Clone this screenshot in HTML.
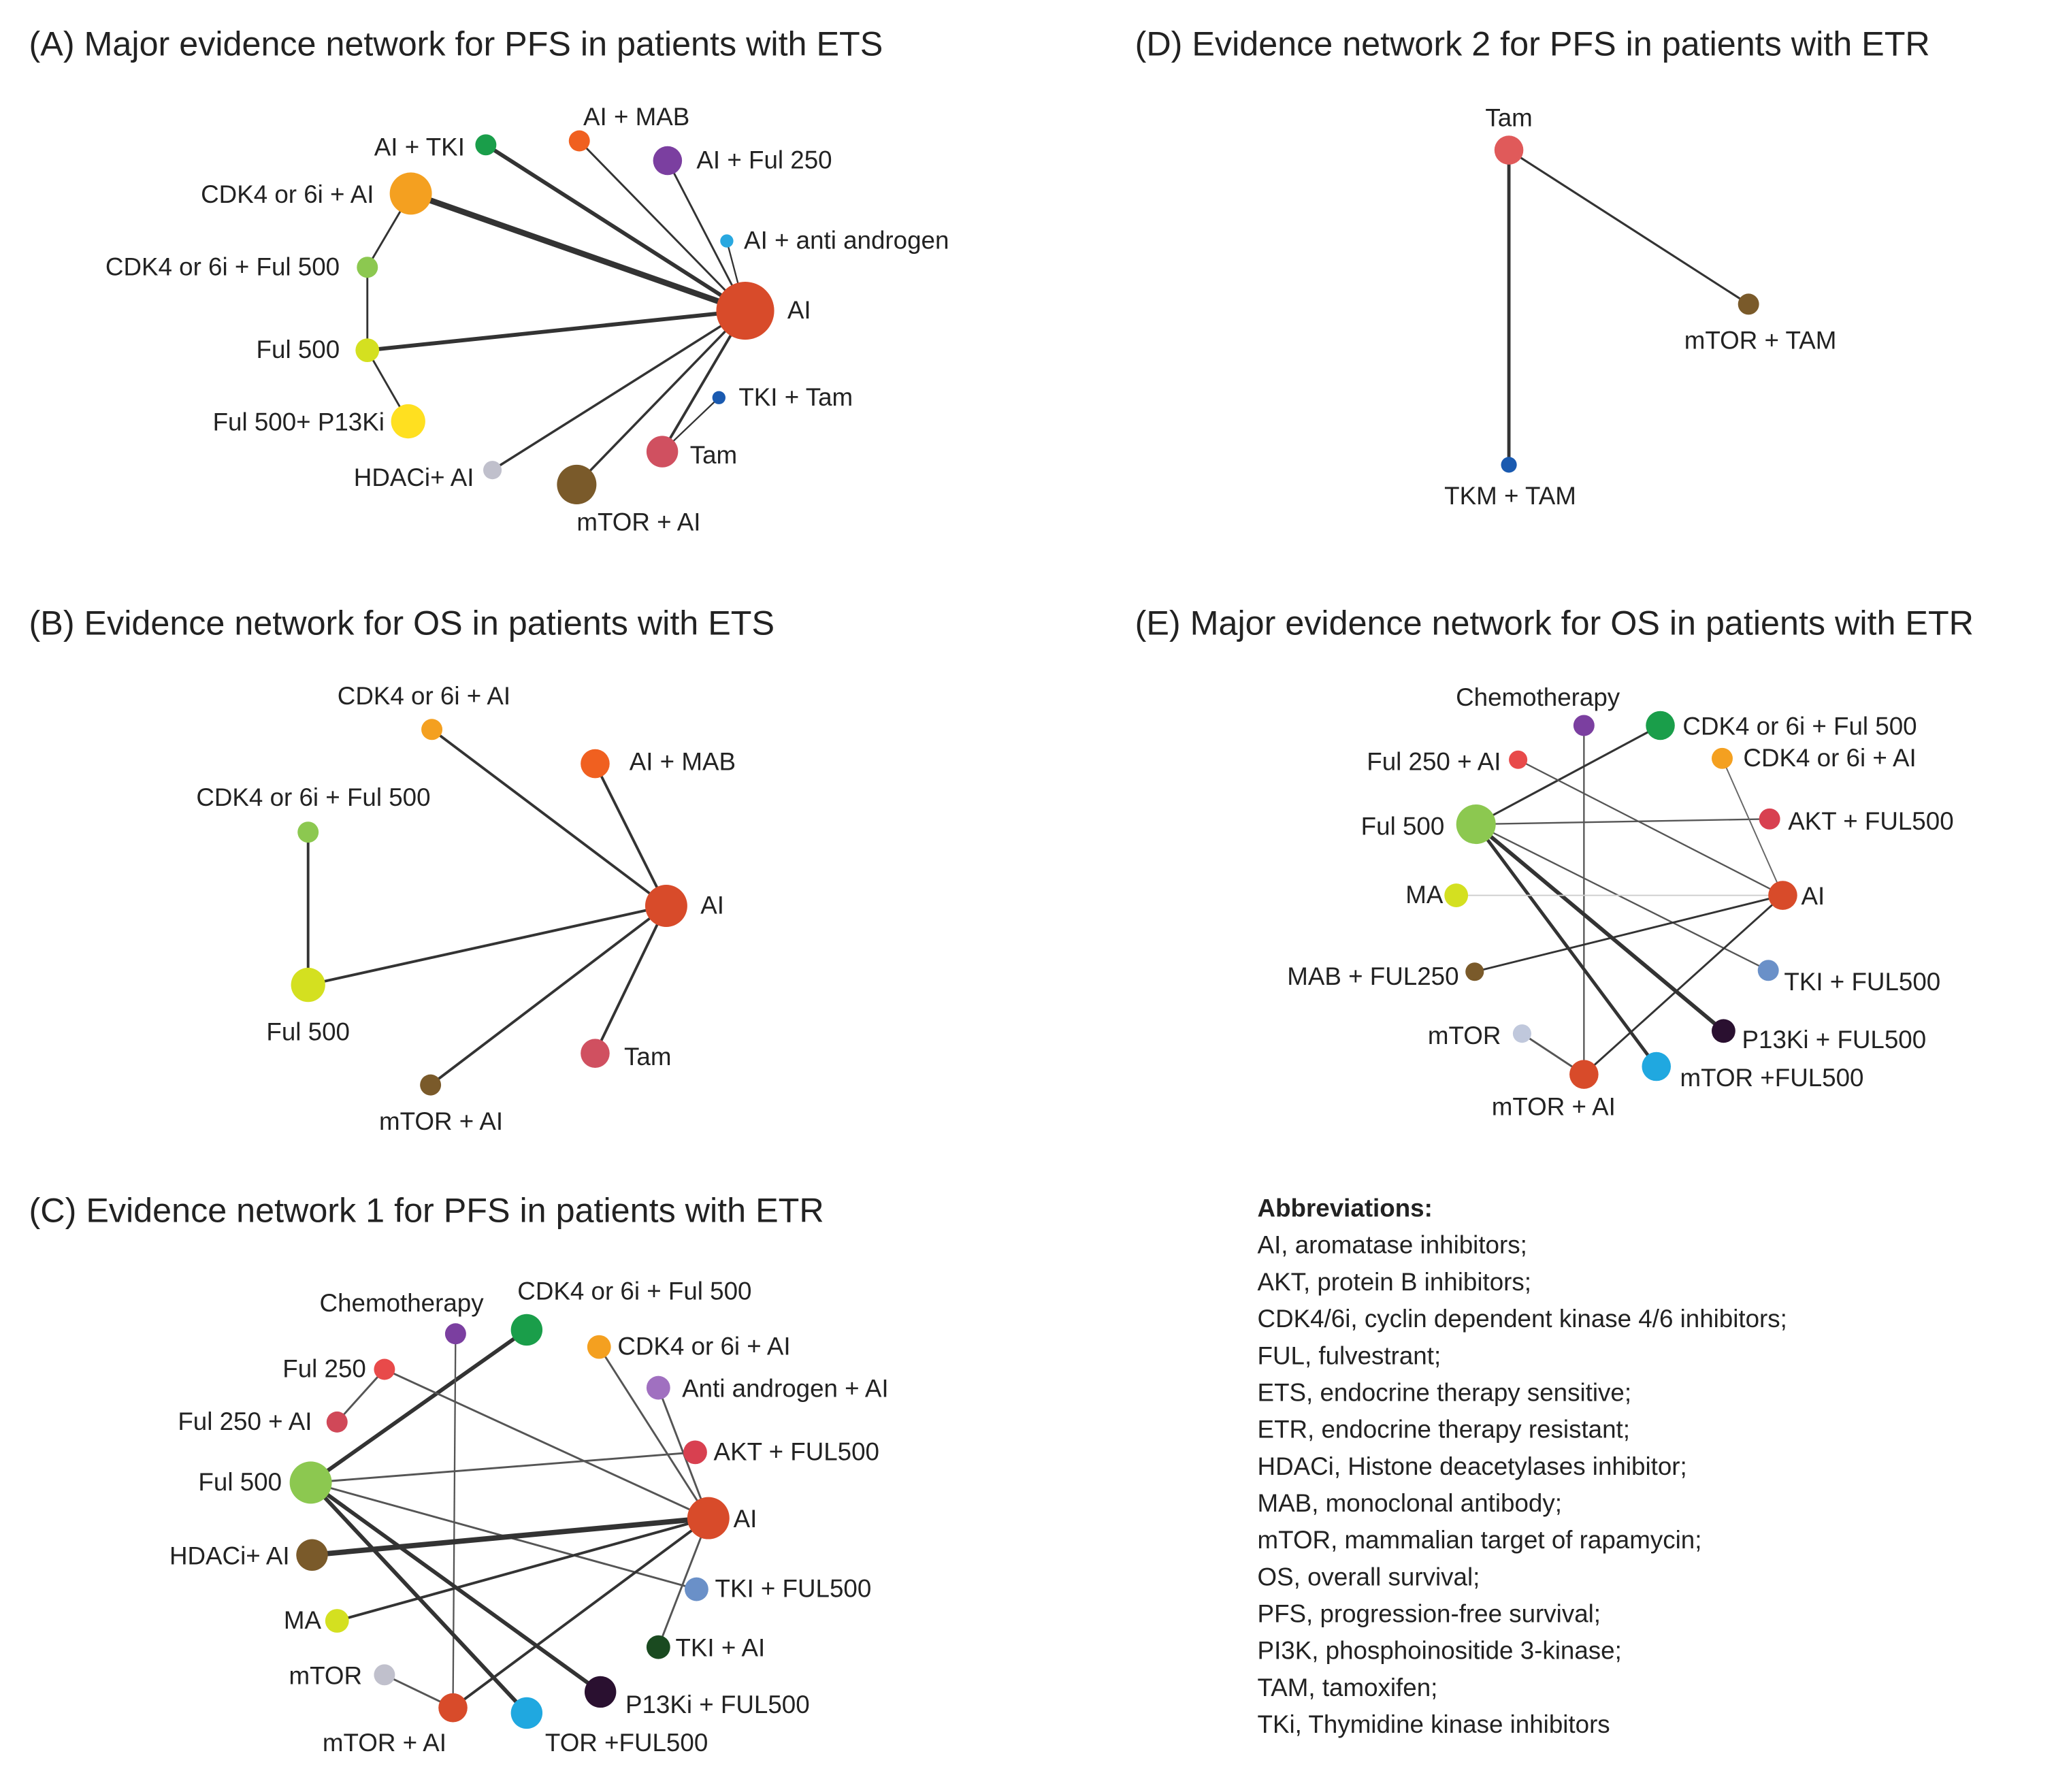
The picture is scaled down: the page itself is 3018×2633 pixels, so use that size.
<!DOCTYPE html>
<html><head><meta charset="utf-8"><style>
html,body{margin:0;padding:0;background:#fff;}
svg{display:block;}
text{font-family:"Liberation Sans",Arial,sans-serif;fill:#222;}
.t{font-size:26px;}
.l{font-size:19px;}
.e{stroke:#333;fill:none;}
</style></head><body>
<svg width="3018" height="2633" viewBox="0 0 1560 1361" xmlns="http://www.w3.org/2000/svg">
<rect width="1560" height="1361" fill="#fff"/>
<!-- Panel A -->
<text class="t" x="22" y="42">(A) Major evidence network for PFS in patients with ETS</text>
<g class="e">
<line x1="566" y1="236" x2="369" y2="110" stroke-width="3"/>
<line x1="566" y1="236" x2="440" y2="107" stroke-width="1.5"/>
<line x1="566" y1="236" x2="507" y2="122" stroke-width="1.5"/>
<line x1="566" y1="236" x2="552" y2="183" stroke-width="1.2"/>
<line x1="566" y1="236" x2="312" y2="147" stroke-width="4.5"/>
<line x1="566" y1="236" x2="279" y2="266" stroke-width="3"/>
<line x1="566" y1="236" x2="374" y2="357" stroke-width="1.8"/>
<line x1="566" y1="236" x2="438" y2="368" stroke-width="1.8"/>
<line x1="566" y1="236" x2="503" y2="343" stroke-width="2"/>
<line x1="503" y1="343" x2="546" y2="302" stroke-width="1.2"/>
<line x1="312" y1="147" x2="279" y2="203" stroke-width="1.5"/>
<line x1="279" y1="203" x2="279" y2="266" stroke-width="1.5"/>
<line x1="279" y1="266" x2="310" y2="320" stroke-width="1.5"/>
</g>
<circle cx="566" cy="236" r="22" fill="#d84b2a"/>
<circle cx="369" cy="110" r="8" fill="#1a9e4a"/>
<circle cx="440" cy="107" r="8" fill="#f06020"/>
<circle cx="507" cy="122" r="11" fill="#7b3fa0"/>
<circle cx="552" cy="183" r="5" fill="#29a8e0"/>
<circle cx="312" cy="147" r="16" fill="#f4a020"/>
<circle cx="279" cy="203" r="8" fill="#8cc850"/>
<circle cx="279" cy="266" r="9" fill="#d4e020"/>
<circle cx="310" cy="320" r="13" fill="#ffe020"/>
<circle cx="374" cy="357" r="7" fill="#c0c0cc"/>
<circle cx="438" cy="368" r="15" fill="#7a5a2a"/>
<circle cx="503" cy="343" r="12" fill="#d05060"/>
<circle cx="546" cy="302" r="5" fill="#1a5ab0"/>
<g class="l">
<text class="l" x="353" y="118" text-anchor="end">AI + TKI</text>
<text class="l" x="443" y="95">AI + MAB</text>
<text class="l" x="529" y="128">AI + Ful 250</text>
<text class="l" x="565" y="189">AI + anti androgen</text>
<text class="l" x="598" y="242">AI</text>
<text class="l" x="284" y="154" text-anchor="end">CDK4 or 6i + AI</text>
<text class="l" x="258" y="209" text-anchor="end">CDK4 or 6i + Ful 500</text>
<text class="l" x="258" y="272" text-anchor="end">Ful 500</text>
<text class="l" x="292" y="327" text-anchor="end">Ful 500+ P13Ki</text>
<text class="l" x="360" y="369" text-anchor="end">HDACi+ AI</text>
<text class="l" x="438" y="403">mTOR + AI</text>
<text class="l" x="524" y="352">Tam</text>
<text class="l" x="561" y="308">TKI + Tam</text>
</g>
<!-- Panel B -->
<text class="t" x="22" y="482">(B) Evidence network for OS in patients with ETS</text>
<g class="e" stroke-width="2">
<line x1="506" y1="688" x2="328" y2="554"/>
<line x1="506" y1="688" x2="452" y2="580"/>
<line x1="506" y1="688" x2="234" y2="748"/>
<line x1="506" y1="688" x2="327" y2="824"/>
<line x1="506" y1="688" x2="452" y2="800"/>
<line x1="234" y1="632" x2="234" y2="748"/>
</g>
<circle cx="506" cy="688" r="16" fill="#d84b2a"/>
<circle cx="328" cy="554" r="8" fill="#f4a020"/>
<circle cx="452" cy="580" r="11" fill="#f06020"/>
<circle cx="234" cy="632" r="8" fill="#8cc850"/>
<circle cx="234" cy="748" r="13" fill="#d4e020"/>
<circle cx="327" cy="824" r="8" fill="#7a5a2a"/>
<circle cx="452" cy="800" r="11" fill="#d05060"/>
<text class="l" x="322" y="535" text-anchor="middle">CDK4 or 6i + AI</text>
<text class="l" x="478" y="585">AI + MAB</text>
<text class="l" x="238" y="612" text-anchor="middle">CDK4 or 6i + Ful 500</text>
<text class="l" x="234" y="790" text-anchor="middle">Ful 500</text>
<text class="l" x="335" y="858" text-anchor="middle">mTOR + AI</text>
<text class="l" x="474" y="809">Tam</text>
<text class="l" x="532" y="694">AI</text>
<!-- Panel C -->
<text class="t" x="22" y="928">(C) Evidence network 1 for PFS in patients with ETR</text>
<g class="e">
<line x1="236" y1="1126" x2="400" y2="1010" stroke-width="3"/>
<line x1="346" y1="1013" x2="344" y2="1297" stroke-width="1.2" stroke="#555"/>
<line x1="292" y1="1040" x2="256" y2="1080" stroke-width="1.5" stroke="#555"/>
<line x1="292" y1="1040" x2="538" y2="1153" stroke-width="1.5" stroke="#555"/>
<line x1="236" y1="1126" x2="528" y2="1103" stroke-width="1.5" stroke="#555"/>
<line x1="236" y1="1126" x2="529" y2="1207" stroke-width="1.5" stroke="#555"/>
<line x1="236" y1="1126" x2="456" y2="1285" stroke-width="3"/>
<line x1="236" y1="1126" x2="400" y2="1301" stroke-width="3"/>
<line x1="455" y1="1023" x2="538" y2="1153" stroke-width="1.5" stroke="#555"/>
<line x1="500" y1="1054" x2="538" y2="1153" stroke-width="1.5" stroke="#555"/>
<line x1="237" y1="1181" x2="538" y2="1153" stroke-width="4"/>
<line x1="256" y1="1231" x2="538" y2="1153" stroke-width="2"/>
<line x1="344" y1="1297" x2="538" y2="1153" stroke-width="2"/>
<line x1="500" y1="1251" x2="538" y2="1153" stroke-width="1.5" stroke="#555"/>
<line x1="292" y1="1272" x2="344" y2="1297" stroke-width="1.5" stroke="#555"/>
</g>
<circle cx="346" cy="1013" r="8" fill="#7b3fa0"/>
<circle cx="400" cy="1010" r="12" fill="#1a9e4a"/>
<circle cx="292" cy="1040" r="8" fill="#e84a4a"/>
<circle cx="256" cy="1080" r="8" fill="#d04858"/>
<circle cx="455" cy="1023" r="9" fill="#f4a020"/>
<circle cx="500" cy="1054" r="9" fill="#a070c0"/>
<circle cx="528" cy="1103" r="9" fill="#d84050"/>
<circle cx="236" cy="1126" r="16" fill="#8cc850"/>
<circle cx="538" cy="1153" r="16" fill="#d84b2a"/>
<circle cx="237" cy="1181" r="12" fill="#7a5a2a"/>
<circle cx="529" cy="1207" r="9" fill="#6a90c8"/>
<circle cx="256" cy="1231" r="9" fill="#d4e020"/>
<circle cx="500" cy="1251" r="9" fill="#1a4a20"/>
<circle cx="292" cy="1272" r="8" fill="#c0c0cc"/>
<circle cx="456" cy="1285" r="12" fill="#2a1030"/>
<circle cx="344" cy="1297" r="11" fill="#d84b2a"/>
<circle cx="400" cy="1301" r="12" fill="#20a8e0"/>
<text class="l" x="305" y="996" text-anchor="middle">Chemotherapy</text>
<text class="l" x="393" y="987">CDK4 or 6i + Ful 500</text>
<text class="l" x="278" y="1046" text-anchor="end">Ful 250</text>
<text class="l" x="237" y="1086" text-anchor="end">Ful 250 + AI</text>
<text class="l" x="469" y="1029">CDK4 or 6i + AI</text>
<text class="l" x="518" y="1061">Anti androgen + AI</text>
<text class="l" x="542" y="1109">AKT + FUL500</text>
<text class="l" x="214" y="1132" text-anchor="end">Ful 500</text>
<text class="l" x="557" y="1160">AI</text>
<text class="l" x="220" y="1188" text-anchor="end">HDACi+ AI</text>
<text class="l" x="543" y="1213">TKI + FUL500</text>
<text class="l" x="244" y="1237" text-anchor="end">MA</text>
<text class="l" x="513" y="1258">TKI + AI</text>
<text class="l" x="275" y="1279" text-anchor="end">mTOR</text>
<text class="l" x="475" y="1301">P13Ki + FUL500</text>
<text class="l" x="292" y="1330" text-anchor="middle">mTOR + AI</text>
<text class="l" x="414" y="1330">TOR +FUL500</text>
<!-- Panel D -->
<text class="t" x="862" y="42">(D) Evidence network 2 for PFS in patients with ETR</text>
<line class="e" x1="1146" y1="114" x2="1328" y2="231" stroke-width="1.6"/>
<line class="e" x1="1146" y1="114" x2="1146" y2="353" stroke-width="2.5"/>
<circle cx="1146" cy="114" r="11" fill="#e05a5a"/>
<circle cx="1328" cy="231" r="8" fill="#7a5a2a"/>
<circle cx="1146" cy="353" r="6" fill="#1a5ab0"/>
<text class="l" x="1146" y="96" text-anchor="middle">Tam</text>
<text class="l" x="1337" y="265" text-anchor="middle">mTOR + TAM</text>
<text class="l" x="1147" y="383" text-anchor="middle">TKM + TAM</text>
<!-- Panel E -->
<text class="t" x="862" y="482">(E) Major evidence network for OS in patients with ETR</text>
<g class="e">
<line x1="1203" y1="551" x2="1203" y2="816" stroke-width="1.2" stroke="#555"/>
<line x1="1121" y1="626" x2="1261" y2="551" stroke-width="1.6"/>
<line x1="1153" y1="577" x2="1354" y2="680" stroke-width="1.2" stroke="#555"/>
<line x1="1121" y1="626" x2="1344" y2="622" stroke-width="1.2" stroke="#555"/>
<line x1="1121" y1="626" x2="1343" y2="737" stroke-width="1.2" stroke="#555"/>
<line x1="1121" y1="626" x2="1309" y2="783" stroke-width="3"/>
<line x1="1121" y1="626" x2="1258" y2="810" stroke-width="2.5"/>
<line x1="1308" y1="576" x2="1354" y2="680" stroke-width="1" stroke="#666"/>
<line x1="1106" y1="680" x2="1354" y2="680" stroke-width="1" stroke="#ccc"/>
<line x1="1120" y1="738" x2="1354" y2="680" stroke-width="1.5"/>
<line x1="1156" y1="785" x2="1203" y2="816" stroke-width="1.5" stroke="#555"/>
<line x1="1203" y1="816" x2="1354" y2="680" stroke-width="1.5"/>
</g>
<circle cx="1203" cy="551" r="8" fill="#7b3fa0"/>
<circle cx="1261" cy="551" r="11" fill="#1a9e4a"/>
<circle cx="1153" cy="577" r="7" fill="#e84a4a"/>
<circle cx="1308" cy="576" r="8" fill="#f4a020"/>
<circle cx="1121" cy="626" r="15" fill="#8cc850"/>
<circle cx="1344" cy="622" r="8" fill="#d84050"/>
<circle cx="1106" cy="680" r="9" fill="#d4e020"/>
<circle cx="1354" cy="680" r="11" fill="#d84b2a"/>
<circle cx="1120" cy="738" r="7" fill="#7a5a2a"/>
<circle cx="1343" cy="737" r="8" fill="#6a90c8"/>
<circle cx="1156" cy="785" r="7" fill="#c0c8dc"/>
<circle cx="1309" cy="783" r="9" fill="#2a1030"/>
<circle cx="1203" cy="816" r="11" fill="#d84b2a"/>
<circle cx="1258" cy="810" r="11" fill="#20a8e0"/>
<text class="l" x="1168" y="536" text-anchor="middle">Chemotherapy</text>
<text class="l" x="1278" y="558">CDK4 or 6i + Ful 500</text>
<text class="l" x="1140" y="585" text-anchor="end">Ful 250 + AI</text>
<text class="l" x="1324" y="582">CDK4 or 6i + AI</text>
<text class="l" x="1097" y="634" text-anchor="end">Ful 500</text>
<text class="l" x="1358" y="630">AKT + FUL500</text>
<text class="l" x="1096" y="686" text-anchor="end">MA</text>
<text class="l" x="1368" y="687">AI</text>
<text class="l" x="1108" y="748" text-anchor="end">MAB + FUL250</text>
<text class="l" x="1355" y="752">TKI + FUL500</text>
<text class="l" x="1140" y="793" text-anchor="end">mTOR</text>
<text class="l" x="1323" y="796">P13Ki + FUL500</text>
<text class="l" x="1180" y="847" text-anchor="middle">mTOR + AI</text>
<text class="l" x="1276" y="825">mTOR +FUL500</text>
<!-- Abbreviations -->
<g font-size="19">
<text x="955" y="924" font-weight="bold" font-size="19">Abbreviations:</text>
<text x="955" y="952" font-size="19">AI, aromatase inhibitors;</text>
<text x="955" y="980" font-size="19">AKT, protein B inhibitors;</text>
<text x="955" y="1008" font-size="19">CDK4/6i, cyclin dependent kinase 4/6 inhibitors;</text>
<text x="955" y="1036" font-size="19">FUL, fulvestrant;</text>
<text x="955" y="1064" font-size="19">ETS, endocrine therapy sensitive;</text>
<text x="955" y="1092" font-size="19">ETR, endocrine therapy resistant;</text>
<text x="955" y="1120" font-size="19">HDACi, Histone deacetylases inhibitor;</text>
<text x="955" y="1148" font-size="19">MAB, monoclonal antibody;</text>
<text x="955" y="1176" font-size="19">mTOR, mammalian target of rapamycin;</text>
<text x="955" y="1204" font-size="19">OS, overall survival;</text>
<text x="955" y="1232" font-size="19">PFS, progression-free survival;</text>
<text x="955" y="1260" font-size="19">PI3K, phosphoinositide 3-kinase;</text>
<text x="955" y="1288" font-size="19">TAM, tamoxifen;</text>
<text x="955" y="1316" font-size="19">TKi, Thymidine kinase inhibitors</text>
</g>
</svg>
</body></html>
